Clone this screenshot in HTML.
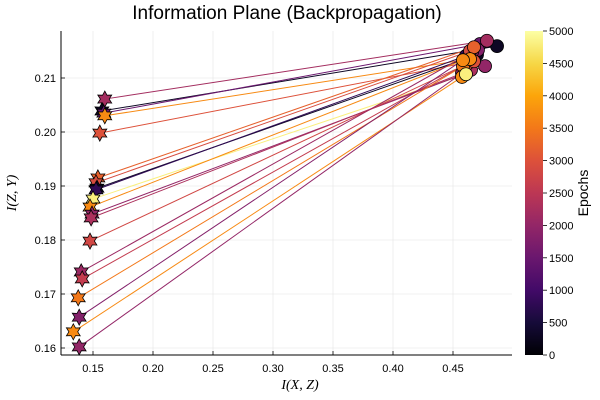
<!DOCTYPE html>
<html><head><meta charset="utf-8"><style>
body{margin:0;background:#fff}
svg{display:block;font-family:"Liberation Sans","DejaVu Sans",sans-serif}
</style></head><body>
<svg id="chart" width="600" height="400" viewBox="0 0 600 400">
<defs>
<linearGradient id="inferno" x1="0" y1="1" x2="0" y2="0">
<stop offset="0" stop-color="#000004"/><stop offset="0.1" stop-color="#160b39"/><stop offset="0.2" stop-color="#420a68"/><stop offset="0.3" stop-color="#6a176e"/><stop offset="0.4" stop-color="#932667"/><stop offset="0.5" stop-color="#bc3754"/><stop offset="0.6" stop-color="#dd513a"/><stop offset="0.7" stop-color="#f37819"/><stop offset="0.8" stop-color="#fca50a"/><stop offset="0.9" stop-color="#f6d746"/><stop offset="1" stop-color="#fcffa4"/>
</linearGradient>
</defs>
<text x="287" y="19" font-size="19" text-anchor="middle" fill="#000">Information Plane (Backpropagation)</text>
<g id="grid"></g>
<g id="axes"></g>
<g id="lines"></g>
<g id="marks"></g>
<text x="300" y="389" font-size="14" font-style="italic" text-anchor="middle" font-family="Liberation Serif,serif">I(X, Z)</text>
<text x="16" y="193" font-size="14" font-style="italic" text-anchor="middle" font-family="Liberation Serif,serif" transform="rotate(-90 16 193)">I(Z, Y)</text>
<rect x="525" y="31" width="18" height="324" fill="url(#inferno)"/>
<g id="cbar"></g>
<text x="588" y="193" font-size="14" text-anchor="middle" transform="rotate(-90 588 193)">Epochs</text>
</svg>
<script>
const xStart=[0.1598,0.1574,0.159,0.1598,0.1557,0.1541,0.1525,0.1533,0.1525,0.15,0.1475,0.1492,0.1484,0.1475,0.1402,0.141,0.1377,0.1385,0.1336,0.1385];
const yStart=[0.2061,0.2039,0.2035,0.2030,0.1998,0.1915,0.1906,0.1896,0.1893,0.1876,0.1861,0.1848,0.1841,0.1798,0.1741,0.1728,0.1693,0.1657,0.1630,0.1602];
const xEnd=[0.4783,0.4867,0.4725,0.4642,0.4675,0.4675,0.4642,0.47,0.4608,0.4608,0.4583,0.4767,0.465,0.4617,0.4658,0.4625,0.4583,0.4708,0.4575,0.4575];
const yEnd=[0.2169,0.2159,0.2163,0.2135,0.2131,0.2157,0.2150,0.2143,0.2141,0.2107,0.2133,0.2122,0.2115,0.2126,0.2148,0.2128,0.2122,0.2152,0.2102,0.2109];
const epochs=[2200,300,1500,3700,3000,3200,2900,300,800,4800,3700,2000,2300,2800,2100,2600,3500,1800,3700,2000];
const xTicks=[0.15,0.20,0.25,0.30,0.35,0.40,0.45];
const yTicks=[0.16,0.17,0.18,0.19,0.20,0.21];
const cTicks=[0,500,1000,1500,2000,2500,3000,3500,4000,4500,5000];
const NS="http://www.w3.org/2000/svg";
const L=61,R=512,T=31,B=355;
const sx=v=>93+(v-0.15)*1200;
const sy=v=>348-(v-0.16)*5400;
const sc=v=>355-v/5000*324;
const stops=[[0,0,0,4],[0.1,22,11,57],[0.2,66,10,104],[0.3,106,23,110],[0.4,147,38,103],[0.5,188,55,84],[0.6,221,81,58],[0.7,243,120,25],[0.8,252,165,10],[0.9,246,215,70],[1,252,255,164]];
function cmap(t){t=Math.max(0,Math.min(1,t));for(let i=1;i<stops.length;i++){if(t<=stops[i][0]){const a=stops[i-1],b=stops[i],f=(t-a[0])/(b[0]-a[0]);return `rgb(${[1,2,3].map(k=>Math.round(a[k]+(b[k]-a[k])*f)).join(',')})`;}}return 'rgb(252,255,164)';}
function mk(tag,attrs,parent){const e=document.createElementNS(NS,tag);for(const k in attrs)e.setAttribute(k,attrs[k]);parent.appendChild(e);return e;}
const grid=document.getElementById('grid'),axes=document.getElementById('axes');
xTicks.forEach(v=>{const x=sx(v);
const g=mk('line',{x1:x,x2:x,y1:T,y2:B,stroke:'#ebebeb','stroke-width':0.8},grid);


const t=mk('line',{x1:x,x2:x,y1:B,y2:B-4,stroke:'#000','stroke-width':0.8},axes);


const l=mk('text',{x:x,y:B+17,'font-size':11,'text-anchor':'middle'},axes);l.textContent=v.toFixed(2);

});
yTicks.forEach(v=>{const y=sy(v);
const g=mk('line',{x1:L,x2:R,y1:y,y2:y,stroke:'#ebebeb','stroke-width':0.8},grid);


const t=mk('line',{x1:L,x2:L+4,y1:y,y2:y,stroke:'#000','stroke-width':0.8},axes);


const l=mk('text',{x:L-5,y:y+4,'font-size':11,'text-anchor':'end'},axes);l.textContent=v.toFixed(2);

});
const ax1=mk('line',{x1:L,x2:L,y1:T,y2:B,stroke:'#000','stroke-width':1},axes);


const ax2=mk('line',{x1:L,x2:R,y1:B,y2:B,stroke:'#000','stroke-width':1},axes);


const cb=document.getElementById('cbar');
cTicks.forEach(v=>{const y=sc(v);
const t=mk('line',{x1:543,x2:547,y1:y,y2:y,stroke:'#000','stroke-width':0.8},cb);


const l=mk('text',{x:549,y:y+4,'font-size':11},cb);l.textContent=v;

});
const lines=document.getElementById('lines'),marks=document.getElementById('marks');
function star(cx,cy,r){let p=[];for(let i=0;i<12;i++){const a=Math.PI/6*i-Math.PI/2;const rr=i%2?r*0.55:r;p.push((cx+rr*Math.cos(a)).toFixed(1)+','+(cy+rr*Math.sin(a)).toFixed(1));}return p.join(' ');}
epochs.forEach((e,i)=>{const c=cmap(e/5000);
const ln=mk('line',{x1:sx(xStart[i]),y1:sy(yStart[i]),x2:sx(xEnd[i]),y2:sy(yEnd[i]),stroke:c,'stroke-width':1},lines);

});
epochs.forEach((e,i)=>{const c=cmap(e/5000);
const s=mk('polygon',{points:star(sx(xStart[i]),sy(yStart[i]),8),fill:c,stroke:'#000','stroke-width':0.8},marks);

});
const order=epochs.map((e,i)=>i).sort((a,b)=>epochs[a]-epochs[b]);
order.forEach(i=>{const c=cmap(epochs[i]/5000);
const ci=mk('circle',{cx:sx(xEnd[i]),cy:sy(yEnd[i]),r:6.5,fill:c,stroke:'#000','stroke-width':0.8},marks);

});
</script>
</body></html>
